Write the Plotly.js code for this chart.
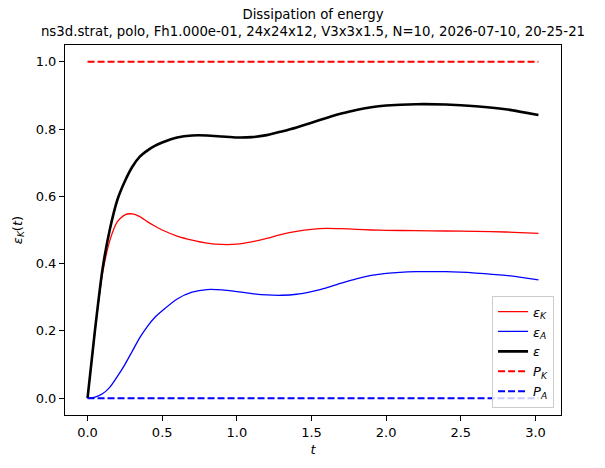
<!DOCTYPE html>
<html>
<head>
<meta charset="utf-8">
<script src="https://cdn.plot.ly/plotly-3.0.1.min.js"></script>
<style>
  html, body { margin: 0; padding: 0; background: #fff; }
  #chart { width: 605px; height: 468px; }
</style>
</head>
<body>
<div id="chart"></div>
<script>
// Time samples of the run
const t = [0, 0.05, 0.1, 0.15, 0.2, 0.25, 0.3, 0.35, 0.4, 0.45, 0.5, 0.6, 0.7, 0.8, 0.9,
           1.0, 1.1, 1.2, 1.3, 1.4, 1.5, 1.6, 1.7, 1.8, 1.9, 2.0, 2.2, 2.4, 2.6, 2.8, 3.02];

// Kinetic dissipation
const epsK = [0, 0.200, 0.370, 0.470, 0.525, 0.545, 0.548, 0.540, 0.525, 0.512, 0.500, 0.482, 0.470, 0.461, 0.457,
              0.458, 0.465, 0.475, 0.487, 0.496, 0.502, 0.505, 0.504, 0.502, 0.500, 0.499, 0.498, 0.497, 0.496, 0.494, 0.490];

// Potential dissipation
const epsA = [0, 0.003, 0.013, 0.033, 0.065, 0.100, 0.140, 0.180, 0.213, 0.240, 0.260, 0.295, 0.315, 0.323, 0.322,
              0.317, 0.311, 0.307, 0.306, 0.309, 0.317, 0.328, 0.342, 0.355, 0.365, 0.371, 0.376, 0.376, 0.372, 0.365, 0.352];

// Total dissipation
const eps = [0, 0.203, 0.383, 0.503, 0.590, 0.645, 0.688, 0.718, 0.736, 0.750, 0.760, 0.775, 0.781, 0.781, 0.778,
             0.775, 0.776, 0.782, 0.793, 0.805, 0.819, 0.833, 0.846, 0.857, 0.865, 0.870, 0.874, 0.873, 0.868, 0.859, 0.842];

// Forcing rates (constant)
const PK = t.map(() => 1.0);
const PA = t.map(() => 0.0);

const legendNames = [
  '<i>ε<sub>K</sub></i>',
  '<i>ε<sub>A</sub></i>',
  '<i>ε</i>',
  '<i>P<sub>K</sub></i>',
  '<i>P<sub>A</sub></i>'
];

const titleText = 'Dissipation of energy<br>ns3d.strat, polo, Fh1.000e-01, 24x24x12, V3x3x1.5, N=10, 2026-07-10, 20-25-21';

const FONT = 'DejaVu Sans, sans-serif';
const dash = '7px,3px';

const traces = [
  {x: t, y: epsK, name: legendNames[0], mode: 'lines', line: {color: '#ff0000', width: 1.3, shape: 'spline', smoothing: 0.6}},
  {x: t, y: epsA, name: legendNames[1], mode: 'lines', line: {color: '#0000ff', width: 1.3, shape: 'spline', smoothing: 0.6}},
  {x: t, y: eps,  name: legendNames[2], mode: 'lines', line: {color: '#000000', width: 2.6, shape: 'spline', smoothing: 0.6}},
  {x: t, y: PK,   name: legendNames[3], mode: 'lines', line: {color: '#ff0000', width: 2, dash: dash}},
  {x: t, y: PA,   name: legendNames[4], mode: 'lines', line: {color: '#0000ff', width: 2, dash: dash}}
];

const axisCommon = {
  showline: true, mirror: true, linecolor: '#000', linewidth: 1,
  ticks: 'outside', ticklen: 5, tickwidth: 1, tickcolor: '#000',
  showgrid: false, zeroline: false,
  tickfont: {family: FONT, size: 13, color: '#000'},
  tickformat: '.1f'
};

const layout = {
  width: 605, height: 468,
  margin: {l: 65, r: 44, t: 45, b: 53},
  paper_bgcolor: '#fff', plot_bgcolor: '#fff',
  font: {family: FONT, size: 13, color: '#000'},
  showlegend: true,
  title: {
    text: titleText,
    font: {family: FONT, size: 13.3, color: '#000'},
    x: 0.5, xref: 'paper', xanchor: 'center',
    y: 1, yref: 'container', yanchor: 'top',
    pad: {t: 19}
  },
  xaxis: Object.assign({}, axisCommon, {
    range: [-0.151, 3.171], dtick: 0.5, tick0: 0,
    title: {text: '<i>t</i>', font: {family: FONT, size: 13}, standoff: 6}
  }),
  yaxis: Object.assign({}, axisCommon, {
    range: [-0.05, 1.05], dtick: 0.2, tick0: 0,
    title: {text: '<i>ε<sub>K</sub></i>(<i>t</i>)', font: {family: FONT, size: 13}, standoff: 10}
  }),
  legend: {
    x: 0.986, xanchor: 'right', y: 0.02, yanchor: 'bottom',
    bgcolor: 'rgba(255,255,255,0.8)', bordercolor: '#cccccc', borderwidth: 1,
    font: {family: FONT, size: 13, color: '#000'},
    itemwidth: 30, tracegroupgap: 0
  }
};

Plotly.newPlot('chart', traces, layout, {displayModeBar: false, staticPlot: true});
</script>
</body>
</html>
